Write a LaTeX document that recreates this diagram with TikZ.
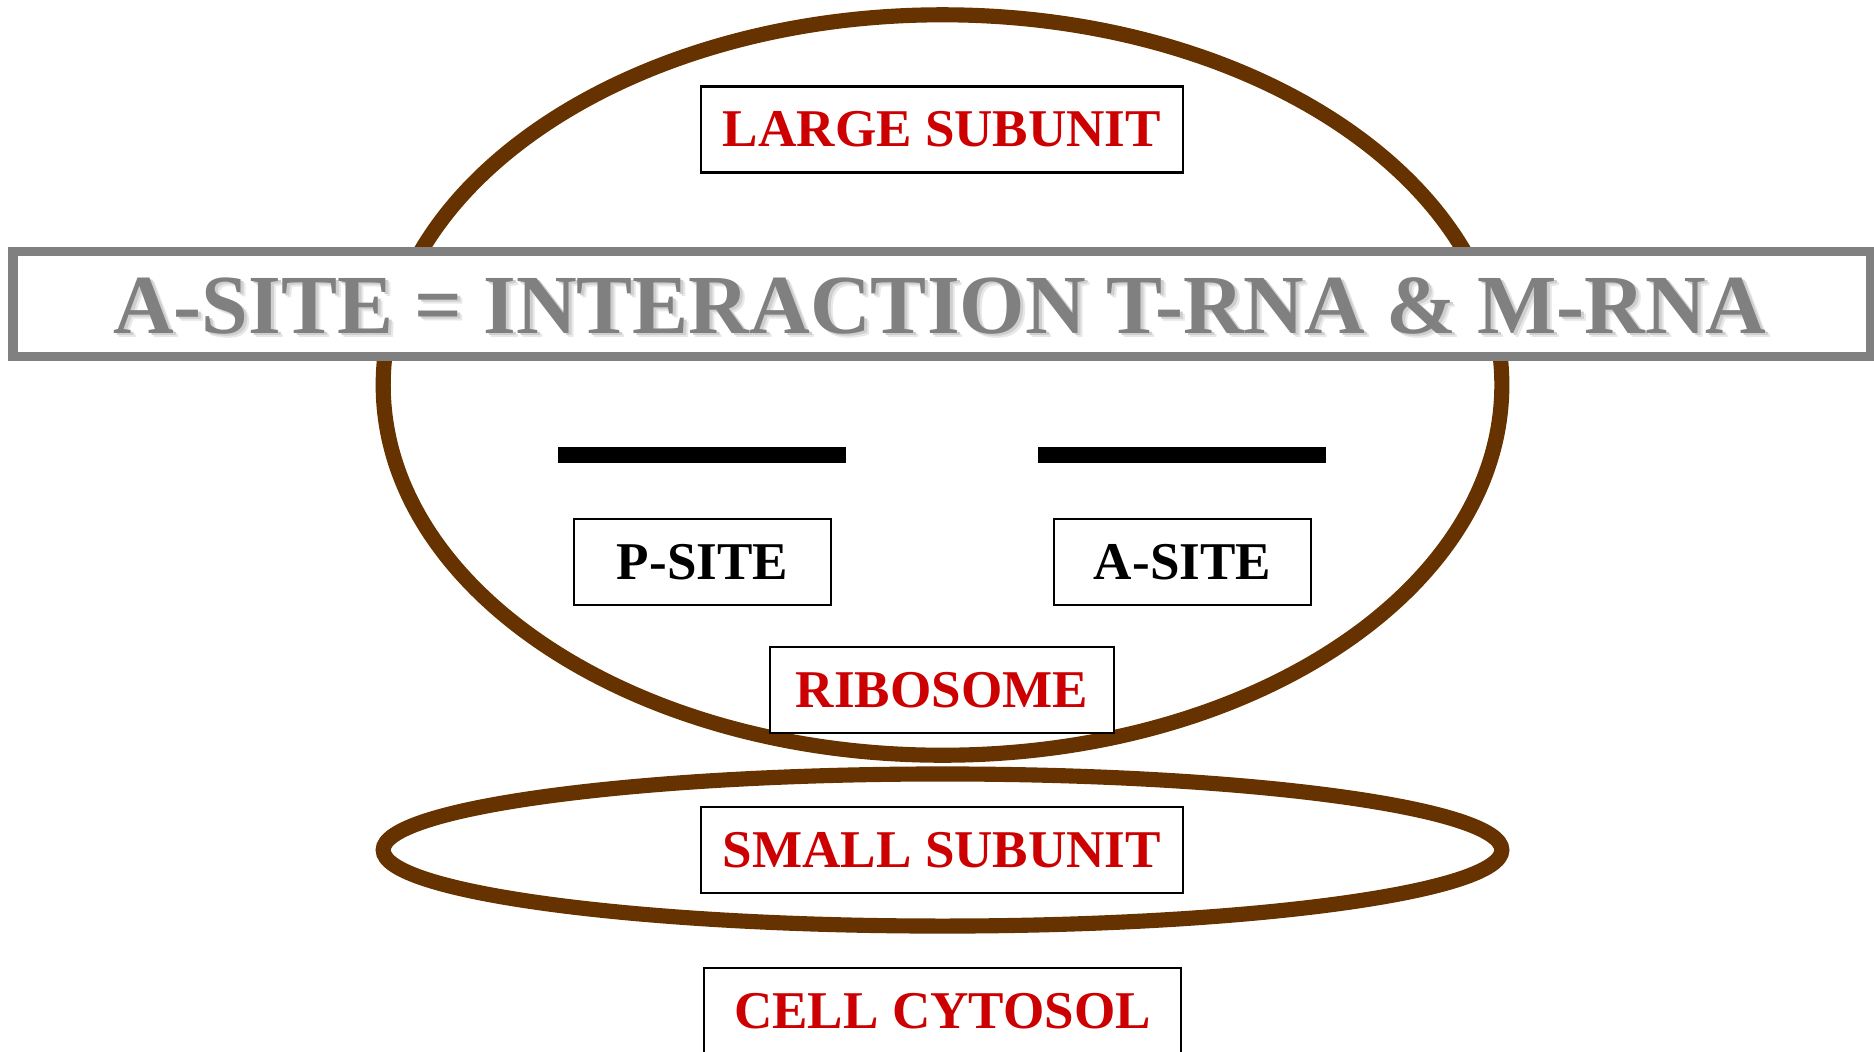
\documentclass[tikz,border=0pt]{standalone}
\usepackage{fontspec}
\setmainfont{Liberation Serif}
\definecolor{ribobrown}{RGB}{102,51,0}
\definecolor{labelred}{RGB}{204,0,0}
\definecolor{bannergray}{RGB}{128,128,128}

\begin{document}
\begin{tikzpicture}[x=0.01cm, y=-0.01cm,
  membrane/.style={draw=ribobrown, line width=4.3pt},
  labelbox/.style={draw=black, line width=0.6pt, fill=white, inner sep=0pt,
    minimum height=0.86cm, font=\bfseries\fontsize{15.1pt}{18pt}\selectfont},
  redlabel/.style={labelbox, text=labelred},
  sitelabel/.style={labelbox, text=black, minimum width=2.57cm},
  sitebar/.style={line width=4.55pt, black},
  titlebox/.style={draw=bannergray, line width=2pt, fill=white, inner sep=0pt,
    minimum width=18.58cm, minimum height=1.07cm},
  titletext/.style={font=\bfseries\fontsize{23.9pt}{28pt}\selectfont, inner sep=0pt}
]
\useasboundingbox (0,0) rectangle (1874,1051);
\clip (0,0) rectangle (1874,1051);

% ribosome subunits
\draw[membrane] (942.5,385) ellipse [x radius=5.59cm, y radius=3.70cm];
\draw[membrane] (942.5,850) ellipse [x radius=5.59cm, y radius=0.76cm];

% title banner with double frame and shadowed text
\node[titlebox] (title) at (941.5,304) {};
\draw[bannergray, line width=0.6pt]
  ([shift={(8,8)}]title.north west) rectangle ([shift={(-8,-8)}]title.south east);
\node[titletext, text=gray!18] (titleshadowb) at (945,310)
  {A-SITE = INTERACTION T-RNA \& M-RNA};
\node[titletext, text=gray!38] (titleshadow) at (943,308)
  {A-SITE = INTERACTION T-RNA \& M-RNA};
\node[titletext, text=bannergray] (titlelabel) at (940,306)
  {A-SITE = INTERACTION T-RNA \& M-RNA};

% binding sites
\coordinate (pbarL) at (558,455);
\coordinate (pbarR) at (846,455);
\coordinate (abarL) at (1038,455);
\coordinate (abarR) at (1326,455);
\draw[sitebar] (pbarL) -- (pbarR);
\draw[sitebar] (abarL) -- (abarR);

% labels
\node[redlabel, minimum width=4.82cm] (large) at (942,129.5) {LARGE SUBUNIT};
\node[sitelabel] (psite) at (702.5,562) {P-SITE};
\node[sitelabel] (asite) at (1182.5,562) {A-SITE};
\node[redlabel, minimum width=3.44cm] (ribosome) at (942,690) {RIBOSOME};
\node[redlabel, minimum width=4.82cm] (small) at (942,850) {SMALL SUBUNIT};
\node[redlabel, minimum width=4.77cm] (cytosol) at (942.5,1011) {CELL CYTOSOL};
\end{tikzpicture}
\end{document}
